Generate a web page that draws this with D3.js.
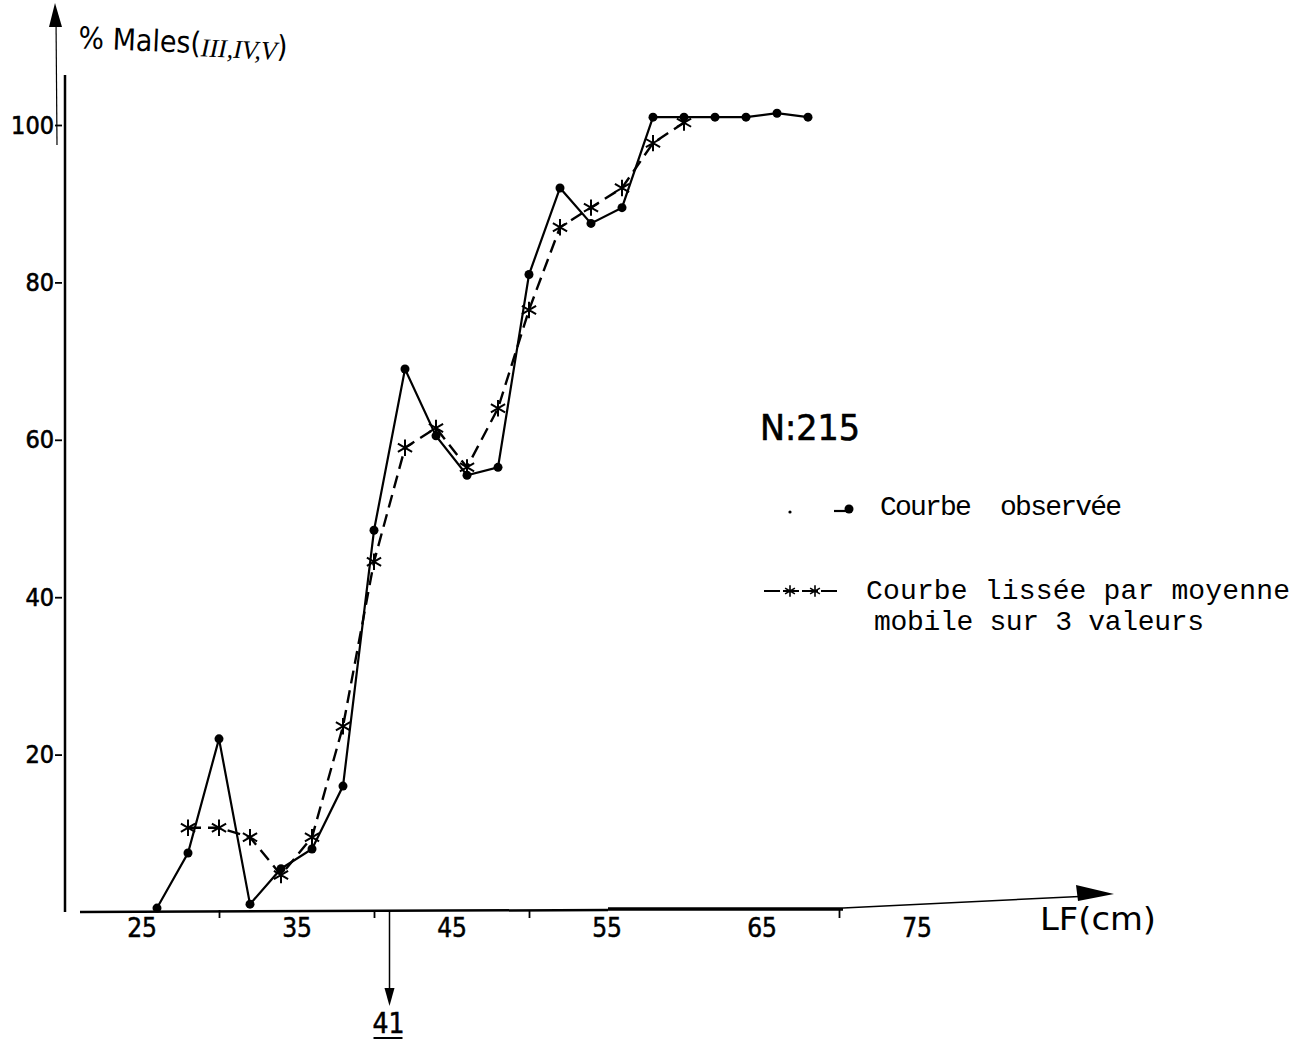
<!DOCTYPE html>
<html>
<head>
<meta charset="utf-8">
<script src="https://cdn.jsdelivr.net/npm/d3@7"></script>
<style>
  body { margin: 0; background: #fff; }
  svg { display: block; }
  .tick text { font-family: "Liberation Sans Narrow", "DejaVu Sans Condensed", "Liberation Sans", sans-serif; }
</style>
</head>
<body>
<div id="chart"></div>
<script>
// longueur a la fourche (cm) et % de males
var lengths = [26, 28, 30, 32, 34, 36, 38, 40, 42, 44, 46, 48, 50, 52, 54, 56, 58, 60, 62, 64, 66, 68];
var observed = [0.5, 7.5, 22, 1, 5.5, 8, 16, 48.5, 69, 60.5, 55.5, 56.5, 81, 92, 87.5, 89.5, 101, 101, 101, 101, 101.5, 101];
var smoothLengths = [28, 30, 32, 34, 36, 38, 40, 42, 44, 46, 48, 50, 52, 54, 56, 58, 60];
var smoothed = [10.7, 10.7, 9.5, 4.7, 9.5, 23.6, 44.5, 59, 61.5, 56.5, 64, 76.5, 87, 89.5, 92, 97.7, 100.3];
var yTicks = [20, 40, 60, 80, 100];
var xLabels = [25, 35, 45, 55, 65, 75];
var xMinor = [30, 40, 50, 70];
var l50 = 41;

var sans = "Liberation Sans Narrow, DejaVu Sans Condensed, Liberation Sans, sans-serif";
var mono = "Liberation Mono, DejaVu Sans Mono, monospace";

var svg = d3.select("#chart").append("svg")
  .attr("width", 1304)
  .attr("height", 1040);

var x = d3.scaleLinear().domain([25, 75]).range([141.5, 916.5]);
var y = d3.scaleLinear().domain([0, 100]).range([912, 125]);
var axisY = y(0);

// axe Y
svg.append("line").attr("x1", 65).attr("x2", 65).attr("y1", 75).attr("y2", axisY)
  .attr("stroke", "#000").attr("stroke-width", 2.5);
svg.append("line").attr("x1", 56).attr("x2", 57).attr("y1", 18).attr("y2", 145)
  .attr("stroke", "#000").attr("stroke-width", 1.2);
svg.append("path").attr("d", "M55,3 L49,27 L62,27 Z").attr("fill", "#000");

var gy = svg.append("g").attr("transform", "translate(62,0)")
  .call(d3.axisLeft(y).tickValues(yTicks).tickSize(7).tickPadding(1));
gy.select(".domain").remove();
gy.selectAll(".tick line").attr("stroke-width", 1.8);
gy.selectAll(".tick text").attr("font-size", 25).attr("fill", "#000")
  .attr("stroke", "#000").attr("stroke-width", 0.6);

// axe X
svg.append("line").attr("x1", 80).attr("x2", 608).attr("y1", axisY).attr("y2", axisY - 2)
  .attr("stroke", "#000").attr("stroke-width", 2.5);
svg.append("line").attr("x1", 608).attr("x2", 843).attr("y1", axisY - 3).attr("y2", axisY - 3)
  .attr("stroke", "#000").attr("stroke-width", 3.5);
svg.append("line").attr("x1", 843).attr("x2", 1090).attr("y1", axisY - 4).attr("y2", axisY - 16)
  .attr("stroke", "#000").attr("stroke-width", 1.5);
svg.append("path").attr("d", "M1114,894 L1076,885 L1078,901 Z").attr("fill", "#000");

var gx = svg.append("g").attr("transform", "translate(0," + axisY + ")")
  .call(d3.axisBottom(x).tickValues(xLabels).tickSize(0).tickPadding(7));
gx.select(".domain").remove();
gx.selectAll(".tick text").attr("font-size", 26).attr("fill", "#000")
  .attr("stroke", "#000").attr("stroke-width", 0.5);

var gx2 = svg.append("g").attr("transform", "translate(0," + (axisY - 2) + ")")
  .call(d3.axisBottom(x).tickValues(xMinor).tickSize(8).tickFormat(""));
gx2.select(".domain").remove();
gx2.selectAll(".tick line").attr("stroke-width", 1.8);

svg.append("text").attr("x", 1040).attr("y", 930)
  .attr("font-family", sans).attr("font-size", 32)
  .attr("textLength", 116).attr("lengthAdjust", "spacingAndGlyphs")
  .text("LF(cm)");

// fleche L50
svg.append("line").attr("x1", x(l50)).attr("x2", x(l50)).attr("y1", axisY).attr("y2", 992)
  .attr("stroke", "#000").attr("stroke-width", 1.5);
svg.append("path").attr("d", "M" + x(l50) + ",1006 l-5,-18 l10,0 Z").attr("fill", "#000");
svg.append("text").attr("x", x(l50) - 1).attr("y", 1033).attr("text-anchor", "middle")
  .attr("font-family", sans).attr("font-size", 28)
  .attr("stroke", "#000").attr("stroke-width", 0.5).text(l50);
svg.append("line").attr("x1", x(l50) - 16).attr("x2", x(l50) + 13).attr("y1", 1038).attr("y2", 1038)
  .attr("stroke", "#000").attr("stroke-width", 2);

// titre
var title = svg.append("text").attr("transform", "translate(78,48) rotate(2.5)")
  .attr("font-family", sans).attr("font-size", 30);
title.append("tspan").text("% Males(");
title.append("tspan").attr("font-family", "Liberation Serif, serif").attr("font-style", "italic")
  .attr("font-size", 26).attr("dy", 3).text("III,IV,V");
title.append("tspan").attr("dy", -3).text(")");

// courbes
var obsData = lengths.map(function(d, i) { return [d, observed[i]]; });
var smData = smoothLengths.map(function(d, i) { return [d, smoothed[i]]; });
var line = d3.line().x(function(d) { return x(d[0]); }).y(function(d) { return y(d[1]); });

svg.append("path").datum(smData).attr("d", line)
  .attr("fill", "none").attr("stroke", "#000").attr("stroke-width", 2.4)
  .attr("stroke-dasharray", "13,7");
svg.append("path").datum(obsData).attr("d", line)
  .attr("fill", "none").attr("stroke", "#000").attr("stroke-width", 2.2);

svg.selectAll(".dot").data(obsData).enter().append("circle").attr("class", "dot")
  .attr("cx", function(d) { return x(d[0]); }).attr("cy", function(d) { return y(d[1]); })
  .attr("r", 4.5).attr("fill", "#000");

var star = d3.symbol().type(d3.symbolAsterisk).size(190);
svg.selectAll(".star").data(smData).enter().append("path").attr("class", "star")
  .attr("transform", function(d) { return "translate(" + x(d[0]) + "," + y(d[1]) + ")"; })
  .attr("d", star).attr("fill", "none").attr("stroke", "#000").attr("stroke-width", 2);

// legende
svg.append("text").attr("x", 760).attr("y", 440)
  .attr("font-family", sans).attr("font-size", 36)
  .attr("stroke", "#000").attr("stroke-width", 0.6)
  .attr("textLength", 100).attr("lengthAdjust", "spacingAndGlyphs")
  .text("N:215");

svg.append("circle").attr("cx", 790).attr("cy", 512).attr("r", 1.6).attr("fill", "#000");
svg.append("line").attr("x1", 834).attr("x2", 847).attr("y1", 511).attr("y2", 511)
  .attr("stroke", "#000").attr("stroke-width", 2.2);
svg.append("circle").attr("cx", 849).attr("cy", 509).attr("r", 4.5).attr("fill", "#000");

svg.append("line").attr("x1", 764).attr("x2", 840).attr("y1", 591).attr("y2", 591)
  .attr("stroke", "#000").attr("stroke-width", 2.2).attr("stroke-dasharray", "16,3");
[790, 815].forEach(function(cx) {
  svg.append("path").attr("transform", "translate(" + cx + ",591)")
    .attr("d", d3.symbol().type(d3.symbolAsterisk).size(90))
    .attr("fill", "none").attr("stroke", "#000").attr("stroke-width", 1.6);
});

svg.append("text").attr("x", 880).attr("y", 515).attr("font-family", mono).attr("font-size", 28)
  .attr("textLength", 242).attr("lengthAdjust", "spacing")
  .style("white-space", "pre").text("Courbe  observée");
svg.append("text").attr("x", 866).attr("y", 599).attr("font-family", mono).attr("font-size", 28)
  .attr("textLength", 424).attr("lengthAdjust", "spacing")
  .style("white-space", "pre").text("Courbe lissée par moyenne");
svg.append("text").attr("x", 874).attr("y", 630).attr("font-family", mono).attr("font-size", 28)
  .attr("textLength", 330).attr("lengthAdjust", "spacing")
  .style("white-space", "pre").text("mobile sur 3 valeurs");
</script>
</body>
</html>
